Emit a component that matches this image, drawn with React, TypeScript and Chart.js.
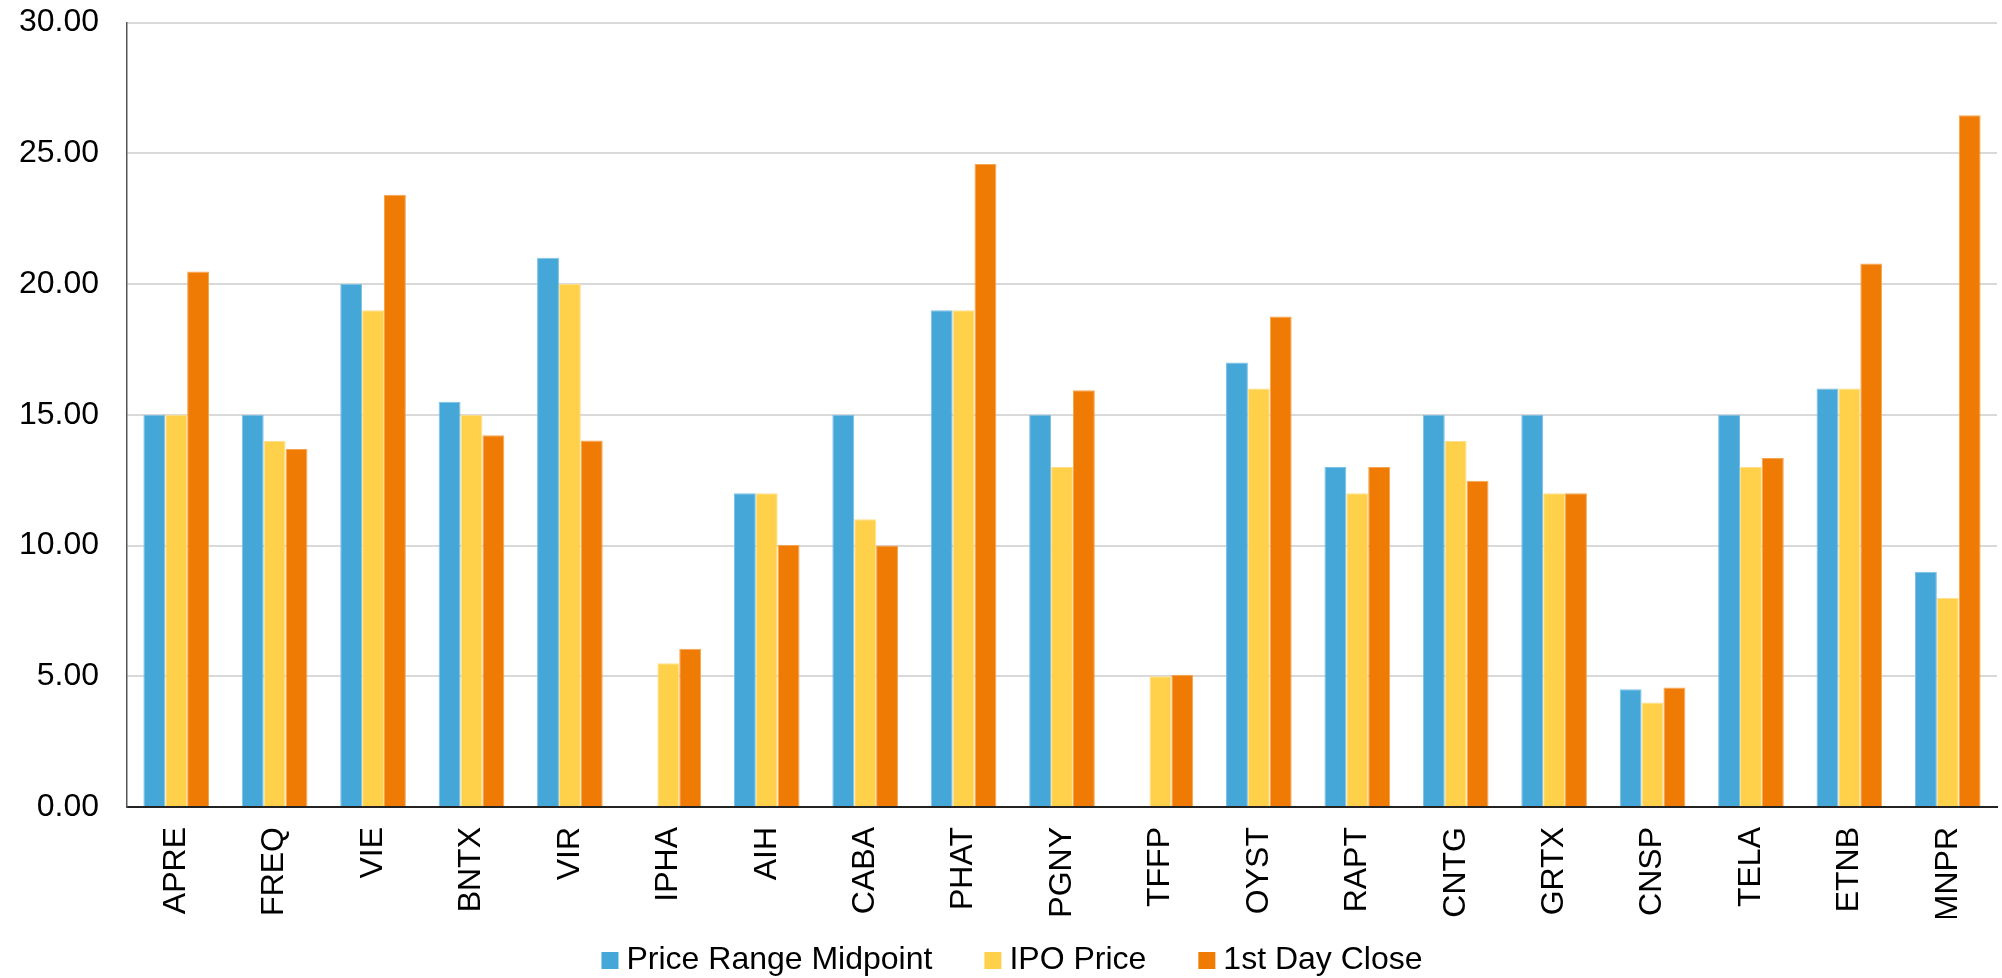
import React, { useEffect, useRef } from "react";
import { Chart, registerables } from "chart.js";

Chart.register(...registerables);

const categories = ["APRE", "FREQ", "VIE", "BNTX", "VIR", "IPHA", "AIH", "CABA", "PHAT", "PGNY", "TFFP", "OYST", "RAPT", "CNTG", "GRTX", "CNSP", "TELA", "ETNB", "MNPR"];
const priceRangeMidpoint: (number | null)[] = [15, 15, 20, 15.5, 21, null, 12, 15, 19, 15, null, 17, 13, 15, 15, 4.5, 15, 16, 9];
const ipoPrice: (number | null)[] = [15, 14, 19, 15, 20, 5.5, 12, 11, 19, 13, 5, 16, 12, 14, 12, 4, 13, 16, 8];
const firstDayClose: (number | null)[] = [20.48, 13.69, 23.41, 14.22, 14.02, 6.05, 10.02, 10, 24.59, 15.94, 5.06, 18.76, 13, 12.48, 12, 4.57, 13.35, 20.78, 26.45];
const seriesNames = ["Price Range Midpoint", "IPO Price", "1st Day Close"];
const seriesColors = ["#45A6D8", "#FFD04A", "#EF7B05"];
const seriesEdgeColors = ["#7cc0e4", "#ffe08a", "#f4a550"];
const yTickMin = 0;
const yTickMax = 30;
const yTickStep = 5;

const FONT = "'Liberation Sans', Arial, sans-serif";
const FONT_SIZE = 32;

const bottomLegend = {
  id: "bottomLegend",
  afterDraw(chart: any) {
    const ctx = chart.ctx as CanvasRenderingContext2D;
    const box = 17;
    const gapText = 8;
    const gapItem = 52;
    ctx.save();
    ctx.font = `${FONT_SIZE}px ${FONT}`;
    const items = chart.data.datasets.map((ds: any) => ({
      text: ds.label as string,
      color: ds.backgroundColor as string,
      w: ctx.measureText(ds.label).width,
    }));
    const total = items.reduce((s: number, it: any) => s + box + gapText + it.w, 0) + gapItem * (items.length - 1);
    let x = chart.width / 2 + 11 - total / 2;
    const baseline = 969;
    ctx.textBaseline = "alphabetic";
    ctx.textAlign = "left";
    for (const it of items) {
      ctx.fillStyle = it.color;
      ctx.fillRect(x, baseline - box, box, box);
      ctx.fillStyle = "#000";
      ctx.fillText(it.text, x + box + gapText, baseline);
      x += box + gapText + it.w + gapItem;
    }
    ctx.restore();
  },
};

export default function App() {
  const canvasRef = useRef<HTMLCanvasElement | null>(null);

  useEffect(() => {
    if (!canvasRef.current) return;
    const chart = new Chart(canvasRef.current, {
      type: "bar",
      data: {
        labels: categories,
        datasets: [
          { label: seriesNames[0], data: priceRangeMidpoint, backgroundColor: seriesColors[0], borderColor: seriesEdgeColors[0], borderWidth: 1 },
          { label: seriesNames[1], data: ipoPrice, backgroundColor: seriesColors[1], borderColor: seriesEdgeColors[1], borderWidth: 1 },
          { label: seriesNames[2], data: firstDayClose, backgroundColor: seriesColors[2], borderColor: seriesEdgeColors[2], borderWidth: 1 },
        ],
      },
      plugins: [bottomLegend],
      options: {
        responsive: true,
        maintainAspectRatio: false,
        animation: false,
        datasets: { bar: { categoryPercentage: 0.667, barPercentage: 1.0 } },
        layout: { padding: { left: 20, right: 5, top: 22.5, bottom: 60 } },
        plugins: {
          tooltip: { enabled: false },
          legend: { display: false },
        },
        scales: {
          x: {
            grid: { display: false, drawTicks: false },
            border: { display: true, color: "#222", width: 2 },
            afterFit: (scale: any) => {
              scale.height = 111;
              scale.paddingLeft = 0;
              scale.paddingRight = 0;
            },
            ticks: {
              color: "#000",
              font: { family: FONT, size: FONT_SIZE },
              minRotation: 90,
              maxRotation: 90,
              padding: 20,
              autoSkip: false,
            },
          },
          y: {
            min: yTickMin,
            max: yTickMax,
            grid: { color: "#d9d9d9", lineWidth: 2, drawTicks: false },
            border: { display: true, color: "#555", width: 1.5 },
            afterFit: (scale: any) => {
              scale.width = 107;
              scale.paddingTop = 0;
              scale.paddingBottom = 0;
            },
            ticks: {
              stepSize: yTickStep,
              color: "#000",
              font: { family: FONT, size: FONT_SIZE },
              padding: 28,
              callback: (v: any) => Number(v).toFixed(2),
            },
          },
        },
      },
    });
    return () => chart.destroy();
  }, []);

  return (
    <div style={{ position: "fixed", left: 0, top: 0, width: 2002, height: 978, background: "#fff" }}>
      <canvas ref={canvasRef} />
    </div>
  );
}
